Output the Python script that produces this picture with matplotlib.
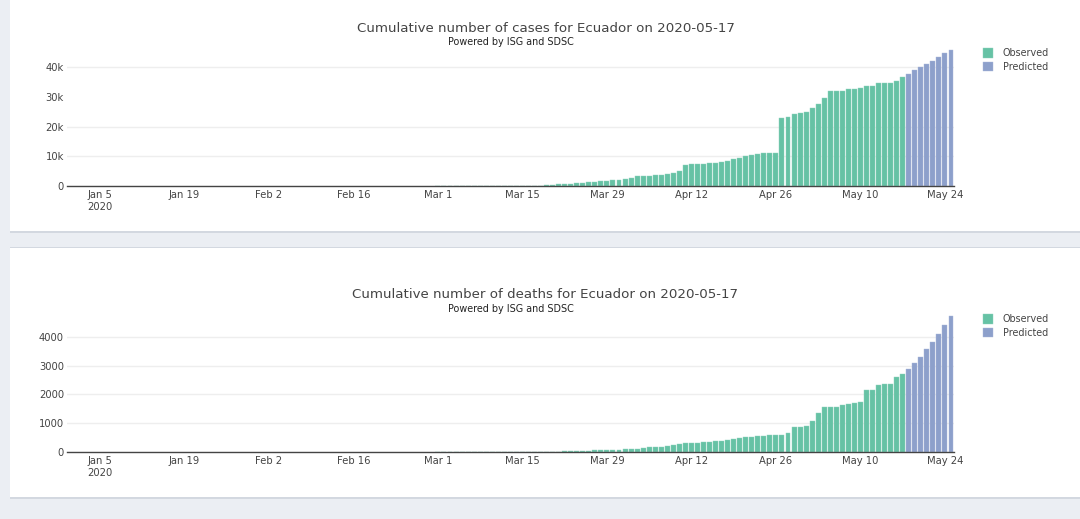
import pandas as pd
import matplotlib
matplotlib.use("Agg")
import matplotlib.pyplot as plt
import matplotlib.dates as mdates
from matplotlib.patches import Rectangle
from matplotlib.ticker import FuncFormatter

# observed data, Mar 1 .. May 17 2020 (earlier days are zero)
obs_dates = pd.date_range("2020-03-01", "2020-05-17")
pred_dates = pd.date_range("2020-05-18", "2020-05-25")

cases_obs = [1, 6, 6, 7, 10, 13, 13, 13, 14, 15, 15, 17, 17, 17, 28, 28, 37, 58,
             170, 260, 530, 560, 790, 920, 1050, 1200, 1430, 1650, 1820, 1920, 1960,
             2300, 2760, 3200, 3370, 3460, 3640, 3750, 3950, 4450, 4960,
             7160, 7260, 7470, 7530, 7600, 7860, 8220, 8450, 9020, 9470,
             10130, 10400, 10850, 11180, 11180, 11180, 22720, 23240, 24260, 24680,
             24930, 26340, 27460, 29510, 31880, 31880, 31880, 32760, 32760, 32950,
             33580, 33580, 34550, 34550, 34550, 35400, 36600]
cases_pred = [37800, 39000, 40000, 41200, 42200, 43400, 44600, 45700]

deaths_obs = [0, 0, 0, 0, 0, 0, 0, 0, 0, 0, 0, 0, 1, 2, 2, 2, 2, 3,
              5, 7, 14, 18, 27, 28, 34, 48, 58, 58, 60, 62, 75,
              93, 116, 120, 145, 162, 173, 185, 220, 243, 277,
              300, 312, 324, 347, 350, 381, 393, 416, 462, 486,
              509, 520, 543, 555, 578, 578, 578, 659, 867, 879,
              902, 1064, 1364, 1561, 1572, 1572, 1630, 1653, 1711, 1722,
              2139, 2162, 2335, 2347, 2347, 2601, 2705]
deaths_pred = [2890, 3098, 3306, 3560, 3826, 4104, 4404, 4717]

tick_dates = pd.date_range("2020-01-05", "2020-05-24", freq="14D")
tick_labels = [d.strftime("%b ") + str(d.day) for d in tick_dates]
tick_labels[0] = tick_labels[0] + "\n2020"

GREEN = "#66c2a5"
BLUE = "#8da0cb"
BG = "#ebeef3"
TXT = "#444444"

W, H = 1080, 519
fig = plt.figure(figsize=(W / 100, H / 100), dpi=100)
fig.patch.set_facecolor(BG)


def fx(px):
    return px / W


def fy(py):
    return 1 - py / H


def card(top, bottom):
    # border/shadow + white card
    fig.patches.append(Rectangle((fx(10), fy(bottom + 1.5)), 1, (bottom - top + 3) / H,
                                 transform=fig.transFigure, facecolor="#d3d8e0",
                                 edgecolor="none", zorder=-2))
    fig.patches.append(Rectangle((fx(10), fy(bottom)), 1, (bottom - top) / H,
                                 transform=fig.transFigure, facecolor="white",
                                 edgecolor="none", zorder=-1))


card(-5, 231)
card(248, 497)


def panel(top_px, zero_px, ymax, yticks, obs, pred, fmt, hide_grid, title,
          title_y, leg_y):
    ax = fig.add_axes([fx(66.7), fy(zero_px), fx(954) - fx(66.7), (zero_px - top_px) / H])
    ax.set_facecolor("none")
    ax.bar(obs_dates, obs, width=0.82, color=GREEN, edgecolor="#8fd3bd",
           linewidth=0.3, label="Observed", zorder=2)
    ax.bar(pred_dates, pred, width=0.82, color=BLUE, edgecolor="#aab8da",
           linewidth=0.3, label="Predicted", zorder=2)
    ax.set_xlim(mdates.date2num(pd.Timestamp("2019-12-30 12:00")),
                mdates.date2num(pd.Timestamp("2020-05-25 12:00")))
    ax.set_ylim(0, ymax)
    ax.set_yticks(yticks)
    ax.yaxis.set_major_formatter(FuncFormatter(fmt))
    ax.set_yticks([0], minor=True)
    ax.set_xticks(tick_dates)
    ax.set_xticklabels(tick_labels)
    ax.tick_params(axis="y", which="major", length=0, pad=2, labelsize=7.2, labelcolor=TXT)
    ax.tick_params(axis="y", which="minor", length=3.5, width=0.8, color=TXT)
    ax.tick_params(axis="x", length=0, pad=3, labelsize=7.2, labelcolor=TXT)
    for lab in ax.get_xticklabels():
        lab.set_linespacing(1.25)
    ax.grid(axis="y", color="#eeeeee", linewidth=1, zorder=0)
    ax.set_axisbelow(True)
    for i in hide_grid:
        ax.get_ygridlines()[i].set_visible(False)
    for s in ["top", "right", "left"]:
        ax.spines[s].set_visible(False)
    ax.spines["bottom"].set_color(TXT)
    ax.spines["bottom"].set_linewidth(1)
    ax.spines["bottom"].set_zorder(3)

    fig.text(fx(545.5), fy(title_y), title, ha="center", va="center",
             fontsize=9.6, color=TXT)
    fig.text(fx(510.5), fy(title_y + 14), "Powered by ISG and SDSC", ha="center",
             va="center", fontsize=6.9, color="#222222")
    fig.legend(handles=ax.patches[:1] + ax.patches[-1:], labels=["Observed", "Predicted"],
               loc="upper left", bbox_to_anchor=(fx(983), fy(leg_y)),
               frameon=False, fontsize=6.9, labelcolor=TXT, handlelength=1.05,
               handleheight=1.15, handletextpad=1.0, labelspacing=0.4,
               borderpad=0, borderaxespad=0)
    return ax


panel(43, 186, 48100, [0, 10000, 20000, 30000, 40000], cases_obs, cases_pred,
      lambda v, p: "0" if v == 0 else "%dk" % (v / 1000), [3],
      "Cumulative number of cases for Ecuador on 2020-05-17", 28, 48)
panel(309, 452, 4965, [0, 1000, 2000, 3000, 4000], deaths_obs, deaths_pred,
      lambda v, p: "%d" % v, [],
      "Cumulative number of deaths for Ecuador on 2020-05-17", 295, 314)

fig.savefig("out.png", dpi=100, facecolor=BG)
